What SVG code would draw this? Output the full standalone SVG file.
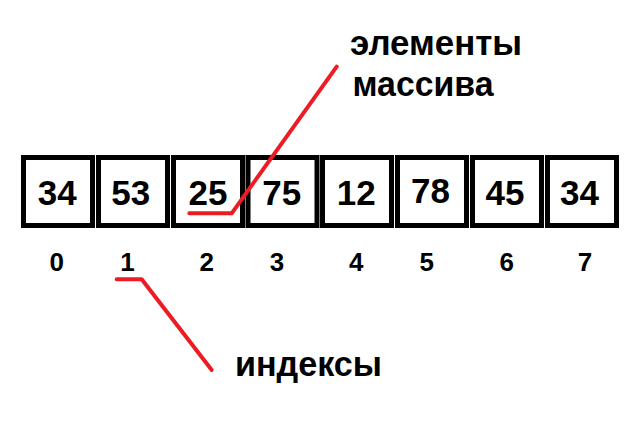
<svg xmlns="http://www.w3.org/2000/svg" width="640" height="427" viewBox="0 0 640 427">
<style>
.box{fill:#fff;stroke:#000;stroke-width:5}
.val{font-family:"Liberation Sans",Arial,sans-serif;font-weight:bold;font-size:35px;fill:#000;text-anchor:middle}
.idx{font-family:"Liberation Sans",Arial,sans-serif;font-weight:bold;font-size:26px;fill:#000;text-anchor:middle}
.lbl{font-family:"Liberation Sans",Arial,sans-serif;font-weight:bold;font-size:35px;fill:#000}
.red{fill:none;stroke:#ed1c24;stroke-width:4;stroke-linecap:round;stroke-linejoin:round}
</style>
<rect width="640" height="427" fill="#fff"/>
<g id="cell0"><rect class="box" x="23.5" y="157.5" width="69" height="68"/><text class="val" x="57.2" y="205">34</text></g>
<g id="cell1"><rect class="box" x="98.5" y="157.5" width="69" height="68"/><text class="val" x="130.8" y="205">53</text></g>
<g id="cell2"><rect class="box" x="173.5" y="157.5" width="69" height="68"/><text class="val" x="208" y="205">25</text></g>
<g id="cell3"><rect class="box" x="248" y="157.5" width="69" height="68"/><text class="val" x="281.7" y="205">75</text></g>
<g id="cell4"><rect class="box" x="322.5" y="157.5" width="69" height="68"/><text class="val" x="356.2" y="205">12</text></g>
<g id="cell5"><rect class="box" x="397.5" y="157.5" width="69" height="68"/><text class="val" x="430.5" y="203.3">78</text></g>
<g id="cell6"><rect class="box" x="472.5" y="157.5" width="69" height="68"/><text class="val" x="505" y="205">45</text></g>
<g id="cell7"><rect class="box" x="547.5" y="157.5" width="69" height="68"/><text class="val" x="579.5" y="205">34</text></g>
<g id="indices">
<text class="idx" x="56.7" y="271">0</text>
<text class="idx" x="127.5" y="271">1</text>
<text class="idx" x="206.7" y="271">2</text>
<text class="idx" x="277" y="271">3</text>
<text class="idx" x="356.3" y="271">4</text>
<text class="idx" x="426.7" y="271">5</text>
<text class="idx" x="506.7" y="271">6</text>
<text class="idx" x="585" y="271">7</text>
</g>
<g id="label-elements"><text class="lbl" x="350" y="55" textLength="172" lengthAdjust="spacingAndGlyphs">элементы</text><text class="lbl" x="352.5" y="96" textLength="141" lengthAdjust="spacingAndGlyphs">массива</text></g>
<g id="label-indices"><text class="lbl" x="235" y="376" textLength="147" lengthAdjust="spacingAndGlyphs">индексы</text></g>
<g id="connectors">
<polyline class="red" points="189.3,213.3 231.7,213.3 336.7,66.7"/>
<polyline class="red" points="116.7,279.3 141.7,279.3 211.7,370"/>
</g>
</svg>
